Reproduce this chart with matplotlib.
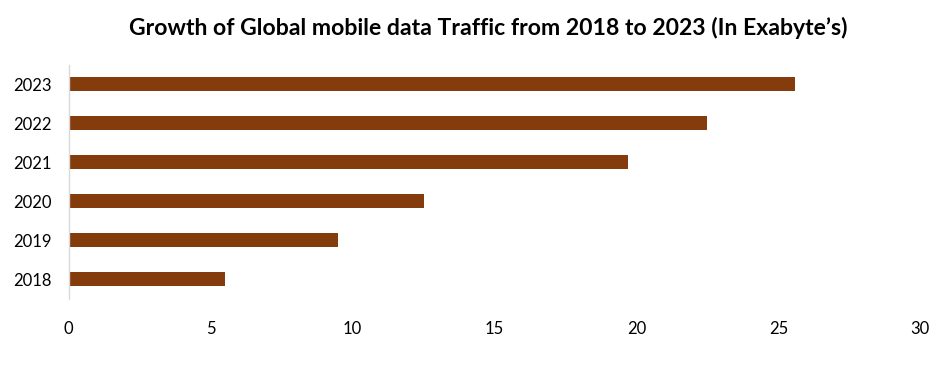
import matplotlib
matplotlib.use("Agg")
import matplotlib.pyplot as plt

# Global mobile data traffic, exabytes
years = ["2018", "2019", "2020", "2021", "2022", "2023"]
traffic = [5.5, 9.5, 12.5, 19.7, 22.5, 25.6]
x_ticks = [0, 5, 10, 15, 20, 25, 30]

plt.rcParams["font.family"] = ["Lato", "DejaVu Sans"]

fig = plt.figure(figsize=(9.41, 3.69), dpi=100)
ax = fig.add_axes([0.073, 0.191, 0.905, 0.634])

positions = range(len(years))
ax.barh(list(positions), traffic, height=0.357, color="#843C0C")
ax.set_yticks(list(positions))
ax.set_yticklabels(years)
ax.set_ylim(-0.5, len(years) - 0.5)
ax.set_xlim(0, 30)
ax.set_xticks(x_ticks)

for side in ["top", "right", "bottom"]:
    ax.spines[side].set_visible(False)
ax.spines["left"].set_color("#D9D9D9")
ax.spines["left"].set_linewidth(1.0)
ax.tick_params(axis="both", length=0, labelsize=12, colors="black")
ax.tick_params(axis="y", pad=12)
ax.tick_params(axis="x", pad=16)

fig.text(0.519, 0.925, "Growth of Global mobile data Traffic from 2018 to 2023 (In Exabyte\u2019s)",
         ha="center", va="center", fontsize=16.6, fontweight="bold", color="black")

fig.savefig("out.png", dpi=100)
